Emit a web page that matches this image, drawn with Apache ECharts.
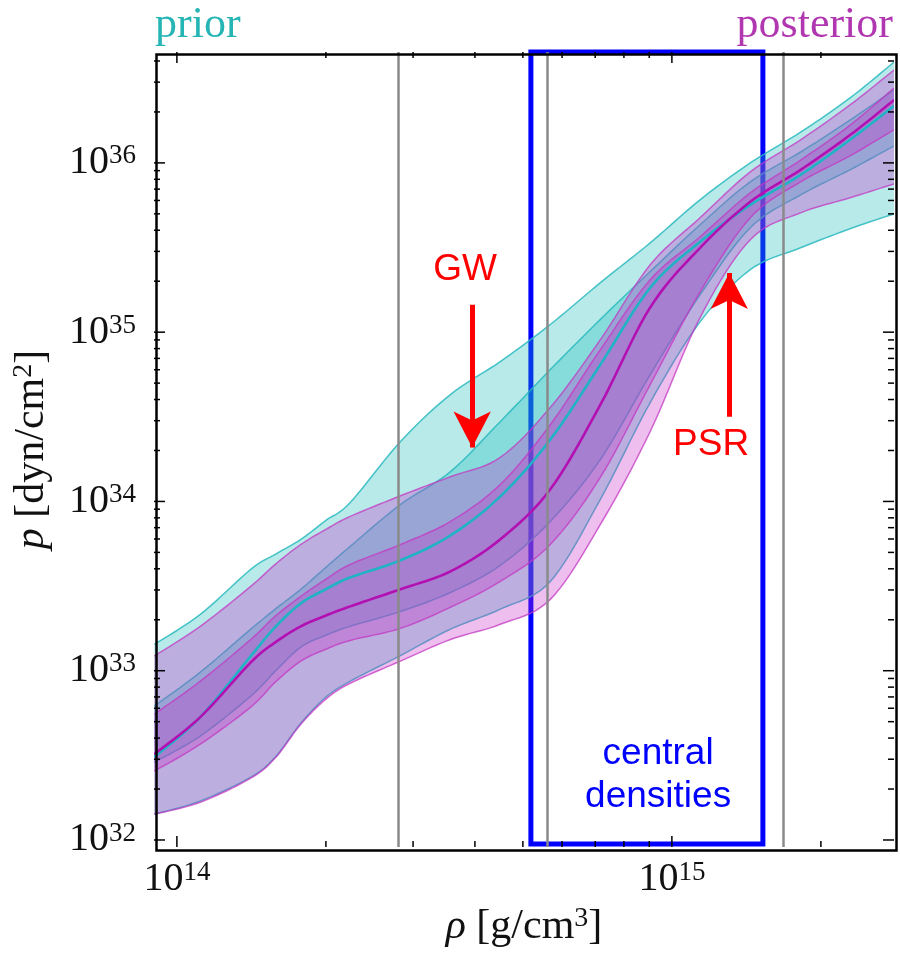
<!DOCTYPE html>
<html><head><meta charset="utf-8">
<script src="https://cdn.jsdelivr.net/npm/echarts@6/dist/echarts.min.js"></script>
<style>html,body{margin:0;padding:0;background:#fff}#c{width:900px;height:953px}</style>
</head><body><div id="c"></div>
<script>
// ---- data (rho in g/cm^3, p in dyn/cm^2) ----
const density = [9.0e13, 1.115e14, 1.41e14, 1.58e14, 1.78e14, 2.0e14, 2.24e14, 2.83e14, 3.57e14, 4.5e14, 5.68e14, 7.17e14, 9.04e14, 1.14e15, 1.44e15, 1.82e15, 2.29e15, 2.81e15];
const priorUpper90 = [1.43e33, 2.15e33, 3.97e33, 4.87e33, 5.97e33, 7.73e33, 9.86e33, 2.26e34, 4.28e34, 6.70e34, 1.11e35, 1.96e35, 3.37e35, 6.05e35, 1.00e36, 1.52e36, 2.42e36, 3.94e36];
const priorUpper50 = [6.18e32, 9.80e32, 1.76e33, 2.31e33, 3.03e33, 4.08e33, 5.43e33, 9.60e33, 1.50e34, 2.96e34, 6.01e34, 1.19e35, 2.28e35, 4.31e35, 7.73e35, 1.16e36, 1.79e36, 2.70e36];
const priorMedian  = [3.09e32, 5.32e32, 1.22e33, 1.81e33, 2.50e33, 3.03e33, 3.56e33, 4.49e33, 6.30e33, 1.07e34, 2.32e34, 6.43e34, 1.83e35, 3.42e35, 5.65e35, 8.50e35, 1.37e36, 2.17e36];
const priorLower50 = [2.88e32, 4.11e32, 7.08e32, 9.93e32, 1.38e33, 1.62e33, 1.83e33, 2.24e33, 2.90e33, 4.19e33, 7.62e33, 1.77e34, 5.61e34, 1.66e35, 4.14e35, 6.47e35, 9.10e35, 1.26e36];
const priorLower90 = [1.42e32, 1.70e32, 2.35e32, 3.09e32, 4.90e32, 6.98e32, 8.67e32, 1.23e33, 1.76e33, 2.31e33, 3.37e33, 1.03e34, 3.84e34, 1.15e35, 2.34e35, 3.15e35, 4.08e35, 5.00e35];
const postUpper90  = [1.22e33, 1.83e33, 3.15e33, 4.25e33, 5.57e33, 6.84e33, 8.16e33, 1.08e34, 1.40e34, 1.82e34, 3.59e34, 9.03e34, 2.50e35, 4.74e35, 8.85e35, 1.37e36, 2.20e36, 3.54e36];
const postUpper50  = [5.54e32, 8.67e32, 1.53e33, 2.10e33, 2.75e33, 3.47e33, 4.25e33, 5.57e33, 7.62e33, 1.26e34, 2.84e34, 7.89e34, 2.04e35, 3.66e35, 6.65e35, 1.04e36, 1.67e36, 2.77e36];
const postMedian   = [3.21e32, 5.32e32, 1.12e33, 1.47e33, 1.83e33, 2.12e33, 2.40e33, 3.03e33, 3.86e33, 5.97e33, 1.18e34, 3.73e34, 1.40e35, 3.15e35, 5.89e35, 9.10e35, 1.46e36, 2.35e36];
const postLower50  = [2.55e32, 3.68e32, 6.10e32, 8.55e32, 1.14e33, 1.34e33, 1.51e33, 1.78e33, 2.37e33, 3.37e33, 5.57e33, 1.39e34, 4.90e34, 1.73e35, 4.74e35, 7.73e35, 1.10e36, 1.57e36];
const postLower90  = [1.42e32, 1.67e32, 2.32e32, 3.05e32, 4.83e32, 6.79e32, 8.43e32, 1.14e33, 1.53e33, 1.88e33, 2.64e33, 7.31e33, 2.59e34, 1.22e35, 3.52e35, 5.07e35, 6.22e35, 7.52e35];

// axis ranges and ticks
const xRange = [8.99e13, 2.81e15];
const yRange = [9.09e31, 4.52e36];
const xMajorTicks = [1e14, 1e15];
const xMinorTicks = [2e14, 3e14, 4e14, 5e14, 6e14, 7e14, 8e14, 9e14, 2e15];
const yMajorTicks = [1e32, 1e33, 1e34, 1e35, 1e36];
const yMinorTicks = [2e32,3e32,4e32,5e32,6e32,7e32,8e32,9e32, 2e33,3e33,4e33,5e33,6e33,7e33,8e33,9e33,
                     2e34,3e34,4e34,5e34,6e34,7e34,8e34,9e34, 2e35,3e35,4e35,5e35,6e35,7e35,8e35,9e35, 2e36,3e36,4e36];

// annotations
const referenceDensities = [2.8e14, 5.6e14, 1.68e15];
const centralBox = { x: [5.19e14, 1.527e15], y: [9.47e31, 4.52e36] };
const gwArrow  = { x: 3.95e14, from: 1.45e35, to: 2.08e34 };
const psrArrow = { x: 1.306e15, from: 3.17e34, to: 2.24e35 };
const textNotes = [
  { text: 'GW', x: 3.82e14, y: 2.34e35, color: '#ff0000' },
  { text: 'PSR', x: 1.2e15, y: 2.17e34, color: '#ff0000' },
  { text: 'central\ndensities', x: 9.38e14, y: 2.42e32, color: '#0000ff' }
];

const SERIF = 'Liberation Serif';
const SANS = 'Liberation Sans';
const PRIOR_EDGE = 'rgba(40,185,190,0.85)';
const PRIOR_FILL = 'rgba(20,185,185,0.30)';
const POST_EDGE = 'rgba(195,55,195,0.75)';
const POST_FILL = 'rgba(200,40,200,0.30)';

// Catmull-Rom smoothing of pixel points (rendering only)
function smoothPts(p, steps) {
  steps = steps || 10;
  const out = [];
  const n = p.length;
  for (let i = 0; i < n - 1; i++) {
    const p0 = p[Math.max(i - 1, 0)], p1 = p[i], p2 = p[i + 1], p3 = p[Math.min(i + 2, n - 1)];
    for (let k = 0; k < steps; k++) {
      const t = k / steps, t2 = t * t, t3 = t2 * t;
      const f = (a, b, c, d) => 0.5 * ((2 * b) + (-a + c) * t + (2 * a - 5 * b + 4 * c - d) * t2 + (-a + 3 * b - 3 * c + d) * t3);
      out.push([f(p0[0], p1[0], p2[0], p3[0]), f(p0[1], p1[1], p2[1], p3[1])]);
    }
  }
  out.push(p[n - 1].slice());
  return out;
}

function bandSeries(name, lower, upper, edge, fill) {
  return {
    name: name, type: 'custom', silent: true, clip: true,
    data: density.map((x, i) => [x, lower[i], upper[i]]),
    encode: { x: 0, y: [1, 2] },
    renderItem: function (params, api) {
      if (params.dataIndexInside !== 0) return null;
      const n = params.dataInsideLength || density.length;
      const up = [], lo = [];
      for (let i = 0; i < n; i++) {
        const x = api.value(0, i);
        lo.push(api.coord([x, api.value(1, i)]));
        up.push(api.coord([x, api.value(2, i)]));
      }
      const su = smoothPts(up), sl = smoothPts(lo);
      return { type: 'group', children: [
        { type: 'polygon', shape: { points: su.concat(sl.slice().reverse()) }, style: { fill: fill, stroke: null } },
        { type: 'polyline', shape: { points: su }, style: { stroke: edge, lineWidth: 1.5, fill: null } },
        { type: 'polyline', shape: { points: sl }, style: { stroke: edge, lineWidth: 1.5, fill: null } }
      ] };
    }
  };
}

function lineSeries(name, values, color) {
  return {
    name: name, type: 'custom', silent: true, clip: true,
    data: density.map((x, i) => [x, values[i]]),
    encode: { x: 0, y: 1 },
    renderItem: function (params, api) {
      if (params.dataIndexInside !== 0) return null;
      const n = params.dataInsideLength || density.length;
      const pts = [];
      for (let i = 0; i < n; i++) pts.push(api.coord([api.value(0, i), api.value(1, i)]));
      return { type: 'polyline', shape: { points: smoothPts(pts) }, style: { stroke: color, lineWidth: 2.6, fill: null } };
    }
  };
}

function powLabel(v) {
  const e = Math.log10(v), r = Math.round(e);
  if (Math.abs(e - r) > 1e-6) return '';
  return '{b|10}{s|' + r + '}';
}
const labelRich = {
  b: { fontFamily: SERIF, fontSize: 40, lineHeight: 40, color: '#111' },
  s: { fontFamily: SERIF, fontSize: 27, lineHeight: 24, verticalAlign: 'top', color: '#111' }
};
const nameRich = {
  i: { fontFamily: SERIF, fontSize: 42, fontStyle: 'italic', lineHeight: 44, color: '#111' },
  t: { fontFamily: SERIF, fontSize: 42, lineHeight: 44, color: '#111' },
  s: { fontFamily: SERIF, fontSize: 28, lineHeight: 26, verticalAlign: 'top', color: '#111' }
};

const chart = echarts.init(document.getElementById('c'), null, { renderer: 'canvas' });

const series = [
  bandSeries('prior 90%', priorLower90, priorUpper90, PRIOR_EDGE, PRIOR_FILL),
  bandSeries('prior 50%', priorLower50, priorUpper50, PRIOR_EDGE, PRIOR_FILL),
  bandSeries('posterior 90%', postLower90, postUpper90, POST_EDGE, POST_FILL),
  bandSeries('posterior 50%', postLower50, postUpper50, POST_EDGE, POST_FILL),
  lineSeries('prior median', priorMedian, '#1fb3c6'),
  lineSeries('posterior median', postMedian, '#b310b3'),
  { name: 'refs', type: 'line', data: [], clip: false, silent: true, z: 5,
    markLine: { silent: true, symbol: ['none', 'none'], label: { show: false }, animation: false,
      lineStyle: { color: '#8a8a8a', width: 2.5, type: 'solid' },
      data: referenceDensities.map(v => ({ xAxis: v })) },
    markArea: { silent: true, animation: false,
      itemStyle: { color: 'rgba(0,0,0,0)', borderColor: '#0000ff', borderWidth: 5 },
      data: [[{ xAxis: centralBox.x[0], yAxis: centralBox.y[0] }, { xAxis: centralBox.x[1], yAxis: centralBox.y[1] }]] }
  },
  { name: 'arrows', type: 'line', data: [], clip: false, silent: true, z: 6,
    markLine: { silent: true, label: { show: false }, animation: false, symbol: ['none', 'arrow'],
      lineStyle: { color: '#ff0000', width: 5, type: 'solid' },
      data: [gwArrow, psrArrow].map(a => [
        { coord: [a.x, a.from], symbol: 'none' },
        { coord: [a.x, a.to], symbol: 'arrow', symbolSize: [28, 36] }
      ]) }
  },
  { name: 'notes', type: 'line', data: [], clip: false, silent: true, z: 7,
    markPoint: { silent: true, animation: false, symbol: 'circle', symbolSize: 1,
      itemStyle: { color: 'rgba(0,0,0,0)' },
      data: textNotes.map(n => ({ name: n.text, coord: [n.x, n.y],
        label: { show: true, position: 'inside', formatter: '{b}', color: n.color,
                 fontFamily: SANS, fontSize: 37, lineHeight: 43 } })) }
  },
  { name: 'xticks', type: 'custom', silent: true, z: 8, clip: false,
    data: xMajorTicks.map(v => [v, yRange[0], 1]).concat(xMinorTicks.map(v => [v, yRange[0], 0])),
    encode: { x: 0, y: 1 },
    renderItem: function (params, api) {
      const v = api.value(0), major = api.value(2);
      const pb = api.coord([v, yRange[0]]), pt = api.coord([v, yRange[1]]);
      const len = major ? 11 : 6;
      const st = { stroke: '#000', lineWidth: 1.5 };
      return { type: 'group', children: [
        { type: 'line', shape: { x1: pb[0], y1: pb[1], x2: pb[0], y2: pb[1] - len }, style: st },
        { type: 'line', shape: { x1: pt[0], y1: pt[1], x2: pt[0], y2: pt[1] + len }, style: st }
      ] };
    }
  },
  { name: 'yticks', type: 'custom', silent: true, z: 8, clip: false,
    data: yMajorTicks.map(v => [xRange[0], v, 1]).concat(yMinorTicks.map(v => [xRange[0], v, 0])),
    encode: { x: 0, y: 1 },
    renderItem: function (params, api) {
      const v = api.value(1), major = api.value(2);
      const pl = api.coord([xRange[0], v]), pr = api.coord([xRange[1], v]);
      const len = major ? 11 : 6;
      const st = { stroke: '#000', lineWidth: 1.5 };
      return { type: 'group', children: [
        { type: 'line', shape: { x1: pl[0], y1: pl[1], x2: pl[0] + len, y2: pl[1] }, style: st },
        { type: 'line', shape: { x1: pr[0], y1: pr[1], x2: pr[0] - len, y2: pr[1] }, style: st }
      ] };
    }
  }
];

chart.setOption({
  animation: false,
  backgroundColor: '#ffffff',
  grid: { left: 154, top: 52, width: 740, height: 796, containLabel: false },
  xAxis: {
    type: 'log', logBase: 10, min: xRange[0], max: xRange[1],
    axisLine: { show: false }, axisTick: { show: false }, splitLine: { show: false },
    axisLabel: { margin: 12, formatter: powLabel, rich: labelRich, showMinLabel: true, showMaxLabel: true },
    name: '{i|ρ}{t| [g/cm}{s|3}{t|]}', nameLocation: 'middle', nameGap: 58,
    nameTextStyle: { rich: nameRich }
  },
  yAxis: {
    type: 'log', logBase: 10, min: yRange[0], max: yRange[1],
    axisLine: { show: false }, axisTick: { show: false }, splitLine: { show: false },
    axisLabel: { margin: 18, formatter: powLabel, rich: labelRich },
    name: '{i|p}{t| [dyn/cm}{s|2}{t|]}', nameLocation: 'middle', nameGap: 100,
    nameTextStyle: { rich: nameRich }
  },
  graphic: [
    { type: 'rect', left: 154, top: 52, z: 100, silent: true,
      shape: { width: 740, height: 796 }, style: { fill: 'none', stroke: '#000', lineWidth: 2.5 } },
    { type: 'text', left: 155, top: 3, z: 100, silent: true,
      style: { text: 'prior', fill: '#26b5b5', font: '44px "Liberation Serif"' } },
    { type: 'text', right: 7, top: 3, z: 100, silent: true,
      style: { text: 'posterior', fill: '#b137b1', font: '44px "Liberation Serif"' } }
  ],
  series: series
});
</script></body></html>
